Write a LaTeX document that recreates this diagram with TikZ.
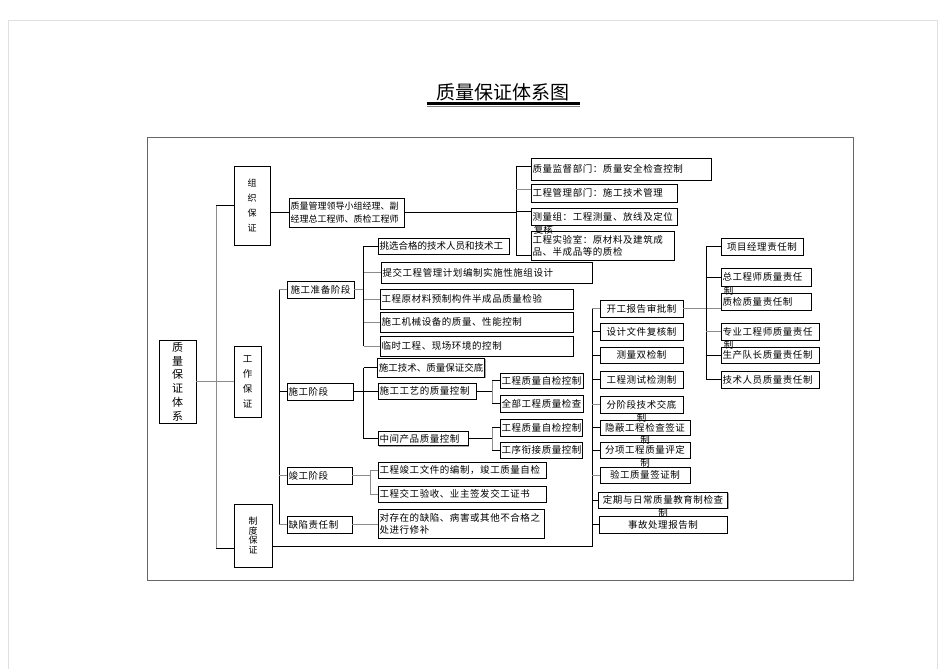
\documentclass[tikz,border=0pt]{standalone}
\usepackage{fontspec}
\setmainfont{Noto Sans CJK SC}
\usetikzlibrary{positioning,calc,shadows}

\begin{document}
\begin{tikzpicture}[x=1pt,y=-1pt,
		box/.style={draw, line width=0.7pt, fill=white, inner sep=1.5pt, font=\fontsize{9.5}{12}\selectfont\addfontfeature{LetterSpace=6},
			drop shadow={shadow xshift=1pt, shadow yshift=-1pt, opacity=1, fill=black!35}},
		lbox/.style={box, align=left},
		vbox/.style={box, align=center},
		ovf/.style={inner sep=0pt, font=\fontsize{9.5}{12}\selectfont},
		link/.style={draw=black, line width=0.7pt},
		glink/.style={draw=black!45, line width=0.9pt}]
		\useasboundingbox (0,0) rectangle (945,669);
		\fill[white] (0,0) rectangle (945,669);
		\draw[black!12, line width=0.8pt] (8,669) -- (8,20) -- (937,20) -- (937,669);
		
		% title and frame
		\node[font=\fontsize{19}{22}\selectfont] (title) at (503,92) {质量保证体系图};
		\draw[line width=2.2pt] (427,103.5) -- (580,103.5);
		\draw[black!50, line width=0.7pt] (427,106.5) -- (580,106.5);
		\draw[black!60, line width=0.8pt] (147,137) rectangle (853,580);
		
		% trunks
		\coordinate (t0) at (216,0);
		\coordinate (t1) at (279,0);
		\coordinate (t2) at (516,0);
		\coordinate (t3) at (363.5,0);
		\coordinate (t4) at (592,0);
		\coordinate (t5) at (492,0);
		\coordinate (t6) at (370,0);
		\coordinate (t7) at (706,0);
		
		% left column
		\node[vbox, minimum width=37pt, minimum height=83pt, font=\fontsize{11}{13.8}\selectfont] (R) at (177.5,381.5) {质\\量\\保\\证\\体\\系};
		\node[vbox, minimum width=36pt, minimum height=79pt, font=\fontsize{9}{15}\selectfont] (Z) at (252,205.5) {组\\织\\保\\证};
		\node[vbox, minimum width=27pt, minimum height=71pt, font=\fontsize{9.5}{15}\selectfont] (G) at (247.5,381.5) {工\\作\\保\\证};
		\node[vbox, minimum width=38pt, minimum height=63pt, font=\fontsize{9}{9.5}\selectfont] (Y) at (253,535.5) {制\\度\\保\\证};
		
		% organisation
		\node[lbox, text width=112pt, minimum height=29pt, font=\fontsize{9}{13}\selectfont] (Z1) at (346.5,212.5) {质量管理领导小组经理、副\\经理总工程师、质检工程师};
		\node[lbox, text width=177pt, minimum height=22pt] (Z11) at (621,169) {质量监督部门：质量安全检查控制};
		\node[lbox, text width=143pt, minimum height=18pt] (Z12) at (604,193) {工程管理部门：施工技术管理};
		\node[lbox, text width=143pt, minimum height=17pt] (Z13) at (604,216.5) {测量组：工程测量、放线及定位};
		\node[lbox, text width=140pt, minimum height=29pt] (Z14) at (602.5,245.5) {工程实验室：原材料及建筑成\\品、半成品等的质检};
		
		% work stages
		\node[box, minimum width=67pt, minimum height=17pt] (A) at (320.5,289.5) {施工准备阶段};
		\node[lbox, text width=63pt, minimum height=17pt] (B) at (320,391.5) {施工阶段};
		\node[lbox, text width=62pt, minimum height=17pt] (C) at (319.5,475.5) {竣工阶段};
		\node[lbox, text width=62pt, minimum height=17pt] (D) at (319.5,524.5) {缺陷责任制};
		
		\node[lbox, text width=128pt, minimum height=16pt, font=\fontsize{9.5}{12}\selectfont] (A1) at (443.5,246) {挑选合格的技术人员和技术工};
		\node[lbox, text width=208pt, minimum height=21pt] (A2) at (486.5,272.5) {提交工程管理计划编制实施性施组设计};
		\node[lbox, text width=190pt, minimum height=20pt] (A3) at (476.5,299) {工程原材料预制构件半成品质量检验};
		\node[lbox, text width=190pt, minimum height=20pt] (A4) at (476.5,322) {施工机械设备的质量、性能控制};
		\node[lbox, text width=190pt, minimum height=20pt] (A5) at (476.5,346) {临时工程、现场环境的控制};
		
		\node[box, minimum width=106pt, minimum height=19pt, font=\fontsize{9.5}{12}\selectfont] (B1) at (431,367.5) {施工技术、质量保证交底};
		\node[lbox, text width=95pt, minimum height=16pt] (B2) at (427,391) {施工工艺的质量控制};
		\node[lbox, text width=87pt, minimum height=14pt] (B3) at (423,438.5) {中间产品质量控制};
		\node[lbox, text width=80pt, minimum height=15pt] (B21) at (541.5,380.5) {工程质量自检控制};
		\node[lbox, text width=80pt, minimum height=17pt] (B22) at (541.5,403.5) {全部工程质量检查};
		\node[lbox, text width=79pt, minimum height=17pt] (B31) at (541,427.5) {工程质量自检控制};
		\node[lbox, text width=79pt, minimum height=16pt] (B32) at (541,450) {工序衔接质量控制};
		
		\node[lbox, text width=165pt, minimum height=16pt] (C1) at (462,470) {工程竣工文件的编制，竣工质量自检};
		\node[lbox, text width=165pt, minimum height=16pt] (C2) at (462,494) {工程交工验收、业主签发交工证书};
		\node[lbox, text width=163pt, minimum height=29pt] (D1) at (461,523.5) {对存在的缺陷、病害或其他不合格之\\处进行修补};
		
		% rules column
		\node[box, minimum width=83pt, minimum height=17pt] (K1) at (641.5,308.5) {开工报告审批制};
		\node[box, minimum width=83pt, minimum height=17pt] (K2) at (641.5,331.5) {设计文件复核制};
		\node[box, minimum width=83pt, minimum height=16pt] (K3) at (641.5,355) {测量双检制};
		\node[box, minimum width=83pt, minimum height=17pt] (K4) at (641.5,379.5) {工程测试检测制};
		\node[box, minimum width=83pt, minimum height=17pt] (K5) at (641.5,404.5) {分阶段技术交底};
		\node[box, minimum width=90pt, minimum height=15pt] (K6) at (645,427.5) {隐蔽工程检查签证};
		\node[box, minimum width=90pt, minimum height=16pt] (K7) at (645,450) {分项工程质量评定};
		\node[box, minimum width=90pt, minimum height=16pt] (K8) at (645,475) {验工质量签证制};
		\node[box, minimum width=129pt, minimum height=16pt] (K9) at (663,500) {定期与日常质量教育制检查};
		\node[box, minimum width=128pt, minimum height=17pt] (K10) at (663,524.5) {事故处理报告制};
		
		% responsibility column
		\node[box, minimum width=82pt, minimum height=17pt] (P1) at (762,246.5) {项目经理责任制};
		\node[lbox, text width=87pt, minimum height=18pt] (P2) at (766,277) {总工程师质量责任};
		\node[lbox, text width=87pt, minimum height=17pt] (P3) at (766,301.5) {质检质量责任制};
		\node[lbox, text width=95pt, minimum height=17pt] (P4) at (770,331.5) {专业工程师质量责任};
		\node[lbox, text width=95pt, minimum height=16pt] (P5) at (770,355) {生产队长质量责任制};
		\node[lbox, text width=95pt, minimum height=17pt] (P6) at (770,379.5) {技术人员质量责任制};
		
		% text running out of its box
		\node[ovf, below right=0pt and 3pt of Z13.south west] (Z13x) {复核};
		\node[ovf, below=0pt of K5] (K5x) {制};
		\node[ovf, below=0pt of K6] (K6x) {制};
		\node[ovf, below=0pt of K7] (K7x) {制};
		\node[ovf, below=0pt of K9] (K9x) {制};
		\node[ovf, below right=0pt and 3pt of P2.south west] (P2x) {制};
		\node[ovf, below right=0pt and 3pt of P4.south west] (P4x) {制};
		
		% main tree
		\draw[glink] (R.east) -- (R.east -| t0);
		\draw[glink] (Z.west -| t0) -- ([yshift=-13pt]Y.west -| t0);
		\draw[link] (Z.west) -- (Z.west -| t0);
		\draw[glink] (G.west) -- (G.west -| t0);
		\draw[link] ([yshift=-13pt]Y.west) -- ([yshift=-13pt]Y.west -| t0);
		\draw[link] ([yshift=-11pt]Y.east) -- ([yshift=-11pt]Y.east -| t4);
		
		% organisation
		\draw[link] (Z.east |- Z1.west) -- (Z1.west);
		\draw[link] (Z1.east) -- (Z1.east -| t2);
		\draw[link] ([yshift=3pt]Z11.west -| t2) -- ([yshift=-10pt]Z14.west -| t2);
		\draw[link] ([yshift=3pt]Z11.west -| t2) -- ([yshift=3pt]Z11.west);
		\draw[glink] ([yshift=4pt]Z12.west -| t2) -- ([yshift=4pt]Z12.west);
		\draw[link] ([yshift=5pt]Z13.west -| t2) -- ([yshift=5pt]Z13.west);
		\draw[link] ([yshift=-10pt]Z14.west -| t2) -- ([yshift=-10pt]Z14.west);
		
		% work stages
		\draw[link] (A.west -| t1) -- (D.west -| t1);
		\draw[glink] (A.west -| t1) -- (A.west);
		\draw[link] (B.west -| t1) -- (B.west);
		\draw[glink] (C.west -| t1) -- (C.west);
		\draw[glink] (D.west -| t1) -- (D.west);
		
		\draw[glink] (A.east) -- (A.east -| t3);
		\draw[link] (A1.west -| t3) -- (A5.west -| t3);
		\draw[link] (A1.west -| t3) -- (A1.west);
		\draw[glink] (A2.west -| t3) -- (A2.west);
		\draw[glink] (A3.west -| t3) -- (A3.west);
		\draw[glink] (A4.west -| t3) -- (A4.west);
		\draw[glink] (A5.west -| t3) -- (A5.west);
		
		\draw[link] (B.east) -- (B.east -| t3);
		\draw[link] (B1.west -| t3) -- (B3.west -| t3);
		\draw[link] (B1.west -| t3) -- (B1.west);
		\draw[link] (B2.west -| t3) -- (B2.west);
		\draw[link] (B3.west -| t3) -- (B3.west);
		
		\draw[link] (B2.east) -- (B2.east -| t5);
		\draw[glink] (B21.west -| t5) -- (B22.west -| t5);
		\draw[link] (B21.west -| t5) -- (B21.west);
		\draw[link] (B22.west -| t5) -- (B22.west);
		\draw[link] (B3.east) -- (B3.east -| t5);
		\draw[glink] (B31.west -| t5) -- (B32.west -| t5);
		\draw[link] (B31.west -| t5) -- (B31.west);
		\draw[link] (B32.west -| t5) -- (B32.west);
		
		\draw[glink] (C.east) -- (C.east -| t6);
		\draw[glink] (C1.west -| t6) -- (C2.west -| t6);
		\draw[glink] (C1.west -| t6) -- (C1.west);
		\draw[glink] (C2.west -| t6) -- (C2.west);
		\draw[glink] (D.east) -- (D.east -| D1.west);
		
		% rules column
		\draw[link] (K1.west -| t4) -- ([yshift=-11pt]Y.east -| t4);
		\draw[glink] (K1.west -| t4) -- (K1.west);
		\draw[link] (K2.west -| t4) -- (K2.west);
		\draw[link] (K3.west -| t4) -- (K3.west);
		\draw[link] (K4.west -| t4) -- (K4.west);
		\draw[glink] (K5.west -| t4) -- (K5.west);
		\draw[link] (K6.west -| t4) -- (K6.west);
		\draw[link] (K7.west -| t4) -- (K7.west);
		\draw[glink] (K8.west -| t4) -- (K8.west);
		\draw[link] (K9.west -| t4) -- (K9.west);
		\draw[link] (K10.west -| t4) -- (K10.west);
		
		% responsibility column
		\draw[glink] (K1.east) -- (K1.east -| P3.west);
		\draw[link] (P1.west -| t7) -- (P6.west -| t7);
		\draw[link] (P1.west -| t7) -- (P1.west);
		\draw[link] (P2.west -| t7) -- (P2.west);
		\draw[glink] (P4.west -| t7) -- (P4.west);
		\draw[link] (P5.west -| t7) -- (P5.west);
		\draw[link] (P6.west -| t7) -- (P6.west);
\end{tikzpicture}
\end{document}
